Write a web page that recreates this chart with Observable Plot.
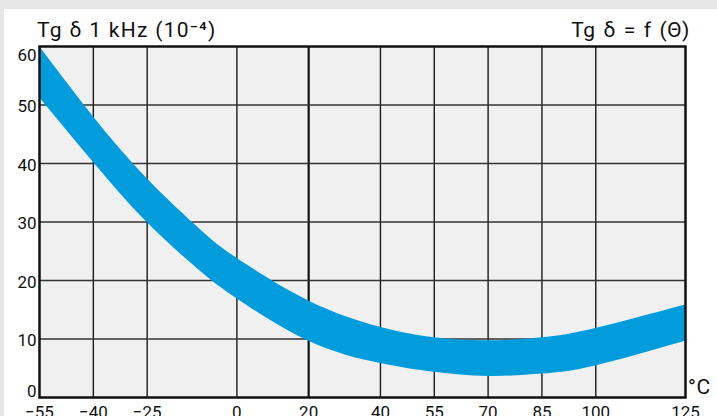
<!DOCTYPE html>
<html>
<head>
<meta charset="utf-8">
<script src="https://cdn.jsdelivr.net/npm/d3@7"></script>
<script src="https://cdn.jsdelivr.net/npm/@observablehq/plot@0.6"></script>
<style>
  html, body { margin: 0; padding: 0; }
  body { width: 717px; height: 416px; background: #e6e6e6; position: relative; overflow: hidden; font-family: Roboto, "Noto Sans", sans-serif; }
  #panel { position: absolute; left: 4px; top: 9px; right: 0; bottom: 0; background: #ffffff; }
  #chart { position: absolute; left: 0; top: 0; }
  .t { position: absolute; font-size: 21px; color: #111; white-space: nowrap; line-height: 1; letter-spacing: 0.6px; }
</style>
</head>
<body>
<div id="panel"></div>
<div id="chart"></div>
<div class="t" style="left:37px; top:20px; letter-spacing: 1.3px;">Tg δ 1 kHz (10⁻⁴)</div>
<div class="t" style="right:27px; top:20px; word-spacing: 2px;">Tg δ = f (Θ)</div>
<div class="t" style="left:688px; top:377px;">°C</div>
<script>
const temps = [-55, -40, -25, -10, 0, 20, 40, 55, 70, 85, 100, 125];
const upper = [60, 48, 37.4, 28.6, 23.8, 16.5, 12, 10.2, 9.7, 10.2, 11.8, 15.8];
const lower = [51.3, 40.2, 29.9, 21.5, 16.9, 9.6, 5.8, 4.3, 3.6, 4.0, 5.4, 9.6];
const xTicks = [-55, -40, -25, 0, 20, 40, 55, 70, 85, 100, 125];
const xGrid = [-40, -25, 0, 40, 55, 70, 85, 100];
const xGridBold = [20];
const yGrid = [10, 20, 30, 40, 50];
const yTicksMid = [10, 20, 30, 40, 50];

const band = temps.map((t, i) => ({t, hi: upper[i], lo: lower[i]}));
const fmt = v => v < 0 ? "\u2212" + Math.abs(v) : String(v);

const plot = Plot.plot({
  width: 717,
  height: 416,
  marginLeft: 39,
  marginTop: 46,
  marginRight: 32,
  marginBottom: 19,
  style: {background: "transparent", fontFamily: "Roboto, 'Noto Sans', sans-serif", fontSize: "17px", color: "#111", overflow: "visible"},
  x: {domain: [-55, 125], axis: null},
  y: {domain: [0, 60], axis: null},
  marks: [
    Plot.frame({fill: "#f0f0f0", stroke: null}),
    Plot.ruleX(xGrid, {stroke: "#1a1a1a", strokeWidth: 1.4}),
    Plot.ruleX(xGridBold, {stroke: "#111", strokeWidth: 2.2}),
    Plot.ruleY(yGrid, {stroke: "#333", strokeWidth: 1.4}),
    Plot.areaY(band, {x: "t", y1: "lo", y2: "hi", curve: "natural", fill: "#009cdc"}),
    Plot.frame({stroke: "#111", strokeWidth: 2.5}),
    Plot.text(yTicksMid, {x: -55, y: d => d, text: d => String(d), textAnchor: "end", dx: -3, dy: 2, fill: "#111", fontSize: 17}),
    Plot.text([60], {x: -55, y: d => d, text: d => String(d), textAnchor: "end", lineAnchor: "top", dx: -3, dy: 2, fill: "#111", fontSize: 17}),
    Plot.text([0], {x: -55, y: d => d, text: d => String(d), textAnchor: "end", lineAnchor: "bottom", dx: -3, dy: -1, fill: "#111", fontSize: 17}),
    Plot.text(xTicks, {x: d => d, y: 0, text: fmt, lineAnchor: "top", dy: 8, fill: "#111", fontSize: 17})
  ]
});
document.getElementById("chart").appendChild(plot);
</script>
</body>
</html>
